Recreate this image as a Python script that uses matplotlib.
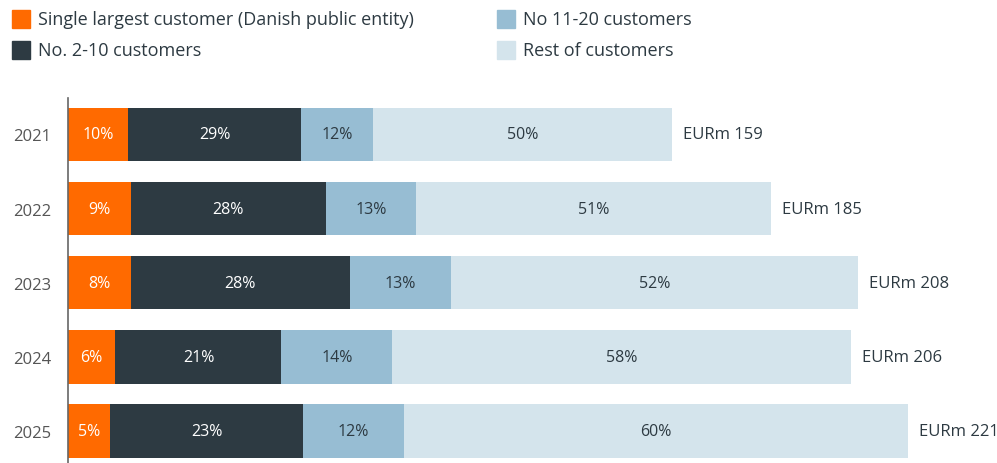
import numpy as np
import matplotlib.pyplot as plt
from matplotlib.patches import Rectangle

# customer concentration, share of revenue per year
years = ["2021", "2022", "2023", "2024", "2025"]
totals = [159, 185, 208, 206, 221]
largest = [10, 9, 8, 6, 5]
top2_10 = [29, 28, 28, 21, 23]
top11_20 = [12, 13, 13, 14, 12]
rest = [50, 51, 52, 58, 60]

series_names = ["Single largest customer (Danish public entity)",
                "No. 2-10 customers",
                "No 11-20 customers",
                "Rest of customers"]
colors = ["#FF6A00", "#2D3A42", "#97BDD3", "#D4E4EC"]
text_colors = ["white", "white", "#2D3A42", "#2D3A42"]

plt.rcParams['font.family'] = ['Open Sans', 'DejaVu Sans']

fig = plt.figure(figsize=(9.97, 4.64), dpi=100)
ax = fig.add_axes([68 / 997, 0, 1 - 68 / 997, 1 - 99 / 464])

shares = np.array([largest, top2_10, top11_20, rest], dtype=float)
totals_arr = np.array(totals, dtype=float)
# widths in EURm, shares rescaled so each bar adds up to its total
widths = shares / shares.sum(axis=0) * totals_arr
ypos = np.arange(len(years))

left = np.zeros(len(years))
for i in range(4):
    ax.barh(ypos, widths[i], left=left, height=0.72, color=colors[i], edgecolor="none")
    for j in range(len(years)):
        ax.text(left[j] + widths[i][j] / 2, ypos[j], f"{int(shares[i][j])}%",
                ha="center", va="center", fontsize=11.5, color=text_colors[i])
    left += widths[i]

for j in range(len(years)):
    ax.text(totals[j] + 2.9, ypos[j], f"EURm {totals[j]}", ha="left", va="center",
            fontsize=12, color="#2D3A42")

ax.set_xlim(0, 929 / 3.8)
ax.set_ylim(4.43, -0.49)
ax.set_yticks(ypos)
ax.set_yticklabels(years, fontsize=12, color="#555555")
ax.tick_params(axis="y", length=0, pad=12)
ax.set_xticks([])
for s in ["top", "right", "bottom"]:
    ax.spines[s].set_visible(False)
ax.spines["left"].set_color("#666666")
ax.spines["left"].set_linewidth(1.2)

# legend drawn by hand in two columns
W, H = 997, 464
legend_pos = [(12, 20), (12, 51), (497, 20), (497, 51)]
for (x, y), name, c in zip(legend_pos, series_names, colors):
    fig.patches.append(Rectangle((x / W, 1 - (y + 9) / H), 18 / W, 18 / H,
                                 transform=fig.transFigure, color=c))
    fig.text((x + 26) / W, 1 - y / H, name, ha="left", va="center",
             fontsize=13, color="#2D3A42")

fig.savefig("out.png", dpi=100)
